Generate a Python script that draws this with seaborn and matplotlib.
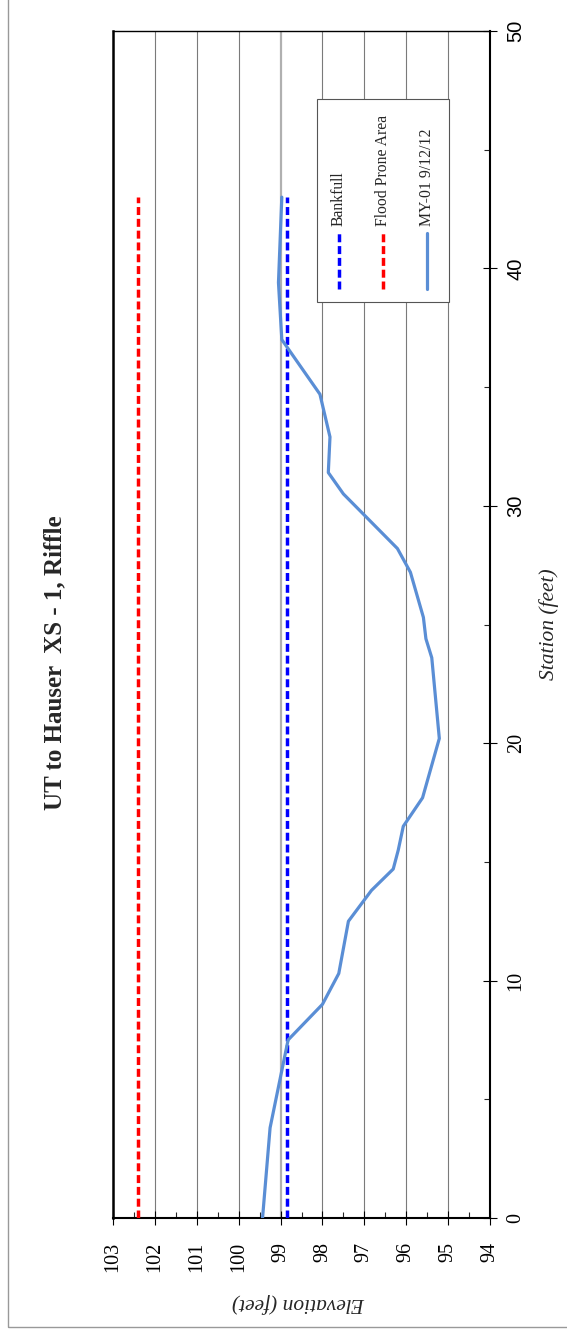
#!/usr/bin/env python3
"""Cross-section plot for UT to Hauser XS-1 (riffle), drawn in portrait/rotated layout."""

import matplotlib
matplotlib.use("Agg")
import matplotlib.pyplot as plt
from matplotlib.patches import Rectangle
from matplotlib.ticker import MultipleLocator
import seaborn as sns

# survey data
station = [0, 3.8, 7.5, 9.0, 10.3, 12.5, 13.8, 14.7, 15.5, 16.5, 17.7, 20.2,
           23.6, 24.4, 25.3, 27.2, 28.2, 30.5, 31.4, 32.9, 34.7, 37.0, 39.4, 43.0]
elevation = [99.43, 99.25, 98.82, 98.0, 97.61, 97.38, 96.83, 96.31, 96.19, 96.07,
             95.61, 95.21, 95.39, 95.53, 95.59, 95.90, 96.21, 97.50, 97.86, 97.82,
             98.06, 98.97, 99.05, 98.97]

bankfull_station = [0, 43.0]
bankfull_elev = [98.84, 98.84]
flood_station = [0, 43.0]
flood_elev = [102.41, 102.41]

elev_ticks = [103, 102, 101, 100, 99, 98, 97, 96, 95, 94]
station_ticks = [0, 10, 20, 30, 40, 50]

title = "UT to Hauser  XS - 1, Riffle"
legend_labels = ["Bankfull", "Flood Prone Area", "MY-01 9/12/12"]

sns.set_style("white")
plt.rcParams["font.family"] = ["Liberation Serif", "DejaVu Serif"]

fig = plt.figure(figsize=(5.67, 13.31), dpi=100)
ax = fig.add_axes([113 / 567, 113 / 1331, 377 / 567, 1187 / 1331])

blue = "#0000FF"
red = "#FF0000"
series_color = "#5A8ED5"
dash = (0, (2.3, 1.1))

sns.lineplot(x=bankfull_elev, y=bankfull_station, sort=False, estimator=None,
             color=blue, linewidth=2.5, linestyle=dash, ax=ax, zorder=3)
sns.lineplot(x=flood_elev, y=flood_station, sort=False, estimator=None,
             color=red, linewidth=2.5, linestyle=dash, ax=ax, zorder=3)
sns.lineplot(x=elevation, y=station, sort=False, estimator=None,
             color=series_color, linewidth=2.3, ax=ax, zorder=4)

ax.set_xlim(103, 94)
ax.set_ylim(0, 50)
ax.set_xticks(elev_ticks)
ax.set_xticklabels([str(t) for t in elev_ticks])
ax.xaxis.set_minor_locator(MultipleLocator(0.5))
ax.set_yticks(station_ticks)
ax.set_yticklabels([str(t) for t in station_ticks])
ax.yaxis.set_minor_locator(MultipleLocator(5))
ax.yaxis.tick_right()
ax.yaxis.set_label_position("right")

ax.grid(axis="x", which="major", color="#7a7a7a", linewidth=0.8)
ax.grid(axis="y", visible=False)
# the 99 ft gridline shows lighter and heavier in the original
for t, gl in zip(ax.get_xticks(), ax.xaxis.get_gridlines()):
    if t == 99:
        gl.set_color("#b0b0b0")
        gl.set_linewidth(1.6)

ax.tick_params(axis="x", which="major", direction="inout", length=10, width=0.8,
               labelsize=14.5, labelrotation=90, pad=12, colors="black")
ax.tick_params(axis="y", which="major", direction="inout", length=10, width=0.8,
               labelsize=14.5, labelrotation=90, pad=7, colors="black",
               right=True, left=False)
ax.tick_params(axis="both", which="minor", direction="in", length=4, width=0.8)
ax.tick_params(axis="y", which="minor", right=True, left=False)
ax.tick_params(axis="x", which="minor", bottom=True, top=False)
ax.tick_params(axis="x", which="major", bottom=True, top=False)

for lbl in ax.get_yticklabels():
    lbl.set_verticalalignment("center")
    if lbl.get_text() in ("50", "40", "30"):
        lbl.set_fontfamily("Liberation Sans")

for side, lw in [("left", 1.8), ("bottom", 1.5), ("right", 1.5), ("top", 1.0)]:
    ax.spines[side].set_visible(True)
    ax.spines[side].set_color("black")
    ax.spines[side].set_linewidth(lw)

ax.set_xlabel("Elevation (feet)", fontsize=15.5, style="italic", rotation=180)
ax.xaxis.set_label_coords(0.493, -0.063)
ax.set_ylabel("Station (feet)", fontsize=15.5, style="italic", rotation=90)
ax.yaxis.set_label_coords(1.13, 0.5)

# legend box drawn by hand so the entries can be turned on their side
ax.add_patch(Rectangle((0.541, 0.772), 0.350, 0.171, transform=ax.transAxes,
                       facecolor="white", edgecolor="#555555", linewidth=0.8, zorder=5))
legend_x = [0.599, 0.716, 0.833]
legend_styles = [(blue, dash, 2.5), (red, dash, 2.5), (series_color, "-", 2.3)]
for lx, (col, ls, lw), text in zip(legend_x, legend_styles, legend_labels):
    ax.plot([lx, lx], [0.783, 0.830], transform=ax.transAxes, color=col,
            linestyle=ls, linewidth=lw, zorder=6, clip_on=False)
    ax.text(lx, 0.836, text, transform=ax.transAxes, rotation=90, fontsize=11.3,
            ha="center", va="bottom", zorder=6)

fig.text(55 / 567, 0.502, title, rotation=90, fontsize=18, fontweight="bold",
         ha="center", va="center")

# page frame
fig.add_artist(Rectangle((8 / 567, 4 / 1331), 1.2, 1.2, transform=fig.transFigure,
                         fill=False, edgecolor="#999999", linewidth=1.0))

fig.savefig("out.png", dpi=100)
plt.close(fig)
